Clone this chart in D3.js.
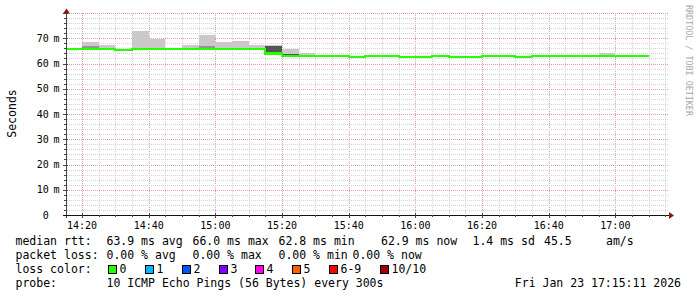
<!DOCTYPE html>
<html><head><meta charset="utf-8">
<script src="https://cdn.jsdelivr.net/npm/d3@7"></script>
<style>
body{margin:0;background:#fff}
svg{display:block}
text{font-family:"DejaVu Sans Mono",monospace}
</style>
</head><body><svg id="c" width="697" height="297"></svg>
<script>
// ---------- data ----------
const viewStart = "2026-01-23T14:15:11";
const viewEnd   = "2026-01-23T17:15:11";
const firstStep = "2026-01-23T14:15:00";
const stepMinutes = 5;
// median rtt per 5-minute step (ms)
const median = [65.9,65.9,65.9,65.4,65.9,65.9,65.9,65.9,65.9,65.9,65.9,65.9,
                64.0,63.0,63.0,63.0,63.0,62.6,63.0,63.0,62.6,62.6,63.0,62.6,
                62.6,63.0,63.0,62.6,63.0,63.0,63.0,63.0,63.0,63.0,63.0];
// top of the light smoke per step (ms)
const smokeHigh = [65.9,68.7,67.4,65.4,73.0,69.9,65.9,67.4,71.3,68.7,68.9,67.4,
                   67.4,65.9,64.1,63.0,63.0,62.6,63.0,63.0,62.6,62.6,63.0,62.6,
                   62.6,63.0,63.0,62.6,63.0,63.0,63.0,63.0,64.2,63.0,63.0];
// medium smoke band [low, high] per step (null = none)
const midBand = [null,[66.2,67.0],null,null,null,null,null,null,[66.3,67.0],null,null,null,
                 null,null,null,null,null,null,null,null,null,null,null,null,
                 null,null,null,null,null,null,null,null,null,null,null];
// dark smoke band [low, high] per step
const darkBand = [null,null,null,null,null,null,null,null,null,null,null,null,
                  [64.3,67.0],[63.3,63.8],null,null,null,null,null,null,null,null,null,null,
                  null,null,null,null,null,null,null,null,null,null,null];
const yTicks = [0,10,20,30,40,50,60,70];
const yUnits = ["","m","m","m","m","m","m","m"];
const yMax = 80;
const xTickLabels = ["14:20","14:40","15:00","15:20","15:40","16:00","16:20","16:40","17:00"];
const yTitle = "Seconds";
const sideText = "RRDTOOL / TOBI OETIKER";
const legendMedian = ["median rtt:","63.9 ms avg","66.0 ms max","62.8 ms min","62.9 ms now","1.4 ms sd","45.5","am/s"];
const legendLoss = ["packet loss:","0.00 % avg","0.00 % max","0.00 % min","0.00 % now"];
const lossLabels = ["0","1","2","3","4","5","6-9","10/10"];
const lossColors = ["#26ff00","#00b8ff","#0059ff","#7e00ff","#ff00ea","#ff5e00","#ff0000","#a10000"];
const probeText = ["probe:","10 ICMP Echo Pings (56 Bytes) every 300s"];
const dateText = "Fri Jan 23 17:15:11 2026";

// ---------- scales ----------
const svg = d3.select("#c");
svg.append("rect").attr("width",697).attr("height",297).attr("fill","#fff");
const X0 = 66, X1 = 666, Y0 = 215, Y1 = 13;
const parse = d3.isoParse;
const x = d3.scaleTime().domain([parse(viewStart), parse(viewEnd)]).range([X0, X1]);
const y = d3.scaleLinear().domain([0, yMax]).range([Y0, Y1]);
const t0 = parse(firstStep);
const stepStart = i => d3.timeMinute.offset(t0, i*stepMinutes);

svg.append("clipPath").attr("id","pc").append("rect")
  .attr("x",X0).attr("y",Y1).attr("width",X1-X0).attr("height",Y0-Y1);

// ---------- grid ----------
const grid = svg.append("g").attr("shape-rendering","crispEdges");
const minorTimes = d3.timeMinute.every(5).range(parse(viewStart), parse(viewEnd));
minorTimes.forEach(t=>{
  const major = t.getMinutes()%20===0;
  const px = Math.round(x(t))+0.5;
  if (px <= X0+1) return;
  grid.append("line").attr("x1",px).attr("x2",px).attr("y1",Y1).attr("y2",Y0)
    .attr("stroke", major ? "#e39b9b" : "#d4d4d4").attr("stroke-dasharray","1,1");
});
d3.range(2, yMax+0.1, 2).forEach(v=>{
  const major = v%10===0;
  const py = Math.round(y(v))+0.5;
  grid.append("line").attr("x1",X0+1).attr("x2",X1+2).attr("y1",py).attr("y2",py)
    .attr("stroke", major ? "#e39b9b" : "#d4d4d4").attr("stroke-dasharray","1,1");
});

// ---------- smoke ----------
const plot = svg.append("g").attr("clip-path","url(#pc)").attr("shape-rendering","crispEdges");
median.forEach((m,i)=>{
  const xa = x(stepStart(i)), xb = x(stepStart(i+1));
  if (smokeHigh[i] > m) plot.append("rect").attr("x",xa).attr("width",xb-xa)
    .attr("y",y(smokeHigh[i])).attr("height",y(m)-y(smokeHigh[i])).attr("fill","#c9c9c9");
  if (midBand[i]) plot.append("rect").attr("x",xa).attr("width",xb-xa)
    .attr("y",y(midBand[i][1])).attr("height",y(midBand[i][0])-y(midBand[i][1])).attr("fill","#959595");
  if (darkBand[i]) plot.append("rect").attr("x",xa).attr("width",xb-xa)
    .attr("y",y(darkBand[i][1])).attr("height",y(darkBand[i][0])-y(darkBand[i][1])).attr("fill","#555555");
});
// median line
const pts = median.map((m,i)=>[stepStart(i), m]);
pts.push([stepStart(median.length), median[median.length-1]]);
plot.append("path").datum(pts)
  .attr("d", d3.line().x(d=>x(d[0])).y(d=>y(d[1])).curve(d3.curveStepAfter))
  .attr("fill","none").attr("stroke","#26ff00").attr("stroke-width",2.2);

// ---------- axes ----------
const ax = svg.append("g").attr("shape-rendering","crispEdges");
ax.append("line").attr("x1",X0+0.5).attr("x2",X0+0.5).attr("y1",Y0+3).attr("y2",10).attr("stroke","#444");
ax.append("line").attr("x1",X0-3).attr("x2",670).attr("y1",Y0+0.5).attr("y2",Y0+0.5).attr("stroke","#111");
svg.append("path").attr("d",`M${X0-3},13.5 L${X0+4},13.5 L${X0+0.5},8.5 Z`).attr("fill","#8b1a1a");
svg.append("path").attr("d",`M669,${Y0-3} L669,${Y0+4} L674,${Y0+0.5} Z`).attr("fill","#8b1a1a");
minorTimes.forEach(t=>{
  const px = Math.round(x(t))+0.5;
  if (px <= X0+1) return;
  const major = t.getMinutes()%20===0;
  ax.append("line").attr("x1",px).attr("x2",px).attr("y1",Y0-(major?2:0)).attr("y2",Y0+(major?3:2)).attr("stroke","#444");
});
d3.range(2, yMax+0.1, 2).forEach(v=>{
  const py = Math.round(y(v))+0.5;
  const major = v%10===0;
  ax.append("line").attr("x1",X0-(major?3:2)).attr("x2",X0+(major?2:0)).attr("y1",py).attr("y2",py).attr("stroke","#444");
});

// y labels
yTicks.forEach((v,i)=>{
  const py = y(v)+3.5;
  svg.append("text").attr("x",48.8).attr("y",py).attr("text-anchor","end")
    .attr("font-size",10).attr("fill","#000").text(v);
  if (yUnits[i]) svg.append("text").attr("x",53.5).attr("y",py)
    .attr("font-size",10).attr("fill","#000").text(yUnits[i]);
});
// x labels
const labelTimes = d3.timeMinute.every(20).range(parse(viewStart), parse(viewEnd));
labelTimes.forEach((t,i)=>{
  svg.append("text").attr("x",x(t)).attr("y",228.5).attr("text-anchor","middle")
    .attr("font-size",10).attr("fill","#000").text(xTickLabels[i]);
});
// titles
svg.append("text").attr("transform","translate(15.5,113.5) rotate(-90)")
  .attr("text-anchor","middle").attr("font-size",11.5).attr("fill","#000").text(yTitle);
svg.append("text").attr("transform","translate(685.5,5) rotate(90)")
  .attr("font-size",8.4).attr("fill","#a8a8a8").text(sideText);

// ---------- legend ----------
const LF = 11.5;
const row1x = [15.5,106.5,192.5,278.5,381,472.5,544,606];
legendMedian.forEach((s,i)=> svg.append("text").attr("x",row1x[i]).attr("y",245).attr("font-size",LF).attr("fill","#000").text(s));
const row2x = [15.5,106.5,192.5,278.5,352.5];
legendLoss.forEach((s,i)=> svg.append("text").attr("x",row2x[i]).attr("y",259).attr("font-size",LF).attr("fill","#000").text(s));
svg.append("text").attr("x",15.5).attr("y",273).attr("font-size",LF).attr("fill","#000").text("loss color:");
const boxX = [108.5,145.5,182.5,219.5,255.5,292.5,329.5,380.5];
lossLabels.forEach((s,i)=>{
  svg.append("rect").attr("x",boxX[i]).attr("y",265.5).attr("width",8).attr("height",8)
    .attr("fill",lossColors[i]).attr("stroke","#000").attr("stroke-width",1);
  svg.append("text").attr("x",boxX[i]+11).attr("y",273).attr("font-size",LF).attr("fill","#000").text(s);
});
svg.append("text").attr("x",15.5).attr("y",287).attr("font-size",LF).attr("fill","#000").text(probeText[0]);
svg.append("text").attr("x",106.5).attr("y",287).attr("font-size",LF).attr("fill","#000").text(probeText[1]);
svg.append("text").attr("x",681).attr("y",287).attr("text-anchor","end").attr("font-size",LF).attr("fill","#000").text(dateText);
</script></body></html>
